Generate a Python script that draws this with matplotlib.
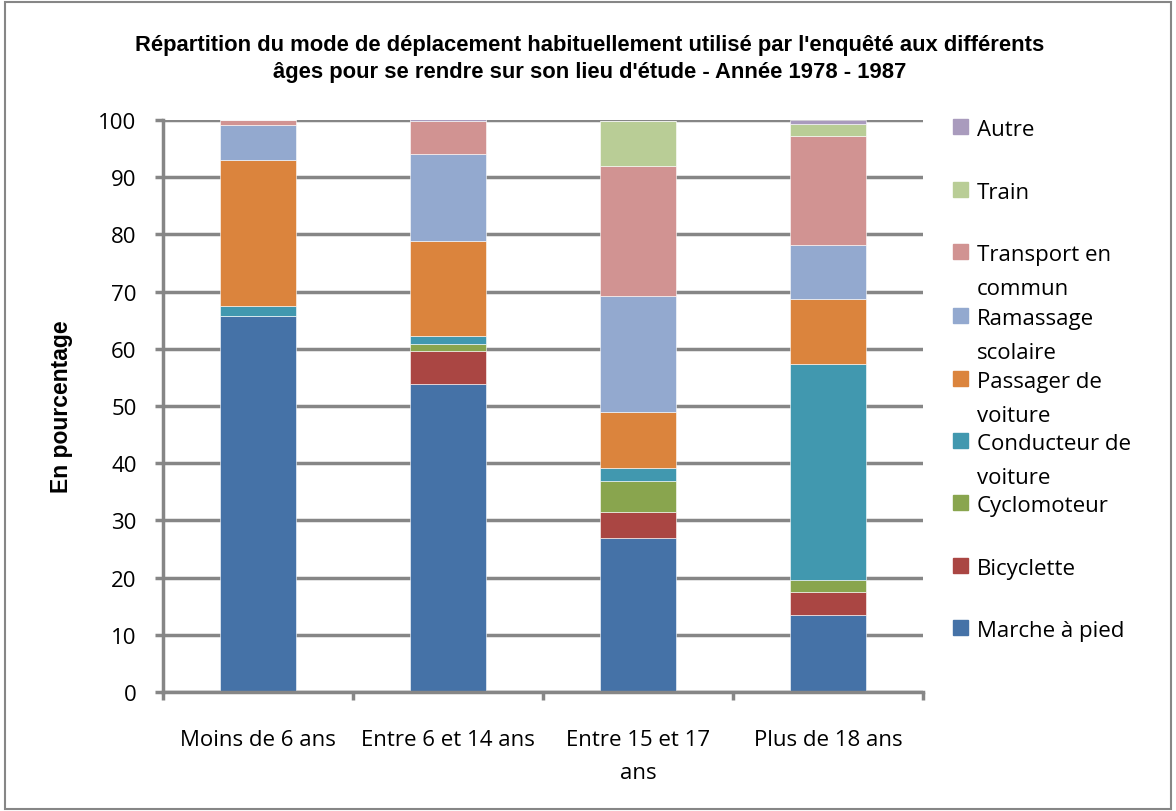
import numpy as np
import matplotlib.pyplot as plt
from matplotlib.patches import Rectangle

# categories and series (percentages)
categories = ["Moins de 6 ans", "Entre 6 et 14 ans", "Entre 15 et 17\nans", "Plus de 18 ans"]
series_names = ["Marche à pied", "Bicyclette", "Cyclomoteur", "Conducteur de\nvoiture",
                "Passager de\nvoiture", "Ramassage\nscolaire", "Transport en\ncommun", "Train", "Autre"]

marche = [65.8, 53.9, 26.9, 13.5]
bicyclette = [0.0, 5.8, 4.6, 3.9]
cyclomoteur = [0.0, 1.1, 5.4, 2.2]
conducteur = [1.7, 1.4, 2.2, 37.8]
passager = [25.5, 16.6, 9.9, 11.25]
ramassage = [6.1, 15.3, 20.2, 9.45]
transport = [0.9, 5.7, 22.75, 19.1]
train = [0.0, 0.0, 7.85, 2.1]
autre = [0.0, 0.35, 0.0, 0.7]

colors = ["#4572A7", "#AA4643", "#89A54E", "#4198AF", "#DB843D",
          "#93A9CF", "#D19392", "#B9CD96", "#A99BBD"]

values = [marche, bicyclette, cyclomoteur, conducteur, passager,
          ramassage, transport, train, autre]

W, H = 1176, 812
fig = plt.figure(figsize=(W / 100, H / 100), dpi=100)
ax = fig.add_axes([163 / W, 1 - 693 / H, 760 / W, 572 / H])

grey = "#868686"
txt_font = ["Open Sans", "DejaVu Sans"]
bold_font = ["Liberation Sans", "DejaVu Sans"]

x = np.arange(len(categories))
bottom = np.zeros(len(categories))
for vals, col in zip(values, colors):
    ax.bar(x, vals, width=0.4, bottom=bottom, color=col,
           edgecolor="#ffffff", linewidth=0.4)
    bottom += np.array(vals)

ax.set_xlim(-0.5, 3.5)
ax.set_ylim(0, 100)
ax.set_yticks(np.arange(0, 101, 10))
ax.yaxis.grid(True, color=grey, linewidth=2.5)
ax.set_axisbelow(True)
for s in ["top", "right"]:
    ax.spines[s].set_visible(False)
for s in ["left", "bottom"]:
    ax.spines[s].set_color(grey)
    ax.spines[s].set_linewidth(2.5)

ax.tick_params(axis="y", length=6, width=2.5, color=grey, pad=13, labelsize=16)
for lab in ax.get_yticklabels():
    lab.set_family(txt_font)

ax.set_xticks([-0.5, 0.5, 1.5, 2.5, 3.5])
ax.set_xticklabels([])
ax.tick_params(axis="x", which="major", length=6, width=2.5, color=grey)
ax.set_xticks(x, minor=True)
ax.set_xticklabels(categories, minor=True, family=txt_font, fontsize=16, linespacing=1.7)
ax.tick_params(axis="x", which="minor", length=0, pad=27)

ax.set_ylabel("En pourcentage", family=bold_font, fontweight="bold", fontsize=16.5)
ax.yaxis.set_label_coords(-0.118, 0.5)

fig.text(590 / W, 1 - 59 / H,
         "Répartition du mode de déplacement habituellement utilisé par l'enquêté aux différents\n"
         "âges pour se rendre sur son lieu d'étude - Année 1978 - 1987",
         ha="center", va="center", family=bold_font, fontweight="bold", fontsize=15.8,
         linespacing=1.35)

# legend drawn manually, evenly spaced like the original
row_y = [629, 567, 504, 442, 380, 317, 253, 191, 128]
for name, col, yy in zip(series_names, colors, row_y):
    fig.patches.append(Rectangle((953 / W, 1 - (yy + 7) / H), 15 / W, 15 / H,
                                 transform=fig.transFigure, color=col))
    for i, line in enumerate(name.split("\n")):
        fig.text(977 / W, 1 - (yy + 8 + 34 * i) / H, line, ha="left", va="baseline",
                 family=txt_font, fontsize=16)

fig.patches.append(Rectangle((5 / W, 2 / H), 1166 / W, 807 / H, transform=fig.transFigure,
                             fill=False, edgecolor=grey, linewidth=1.5))

fig.savefig("out.png", dpi=100)
